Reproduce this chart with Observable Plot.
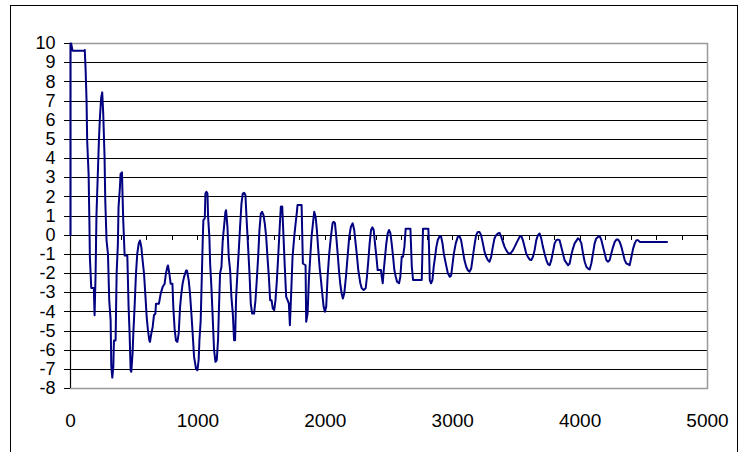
<!DOCTYPE html>
<html>
<head>
<meta charset="utf-8">
<script src="https://cdn.jsdelivr.net/npm/d3@7"></script>
<script src="https://cdn.jsdelivr.net/npm/@observablehq/plot@0.6"></script>
<style>
  html, body { margin: 0; padding: 0; background: #fff; overflow: hidden; }
  #wrap { position: relative; width: 739px; height: 452px; }
  #box { position: absolute; left: 10px; top: 5px; width: 728px; height: 460px; border: 1px solid #000; box-sizing: border-box; pointer-events: none; }
  #chart { position: absolute; left: 0; top: 0; }
</style>
</head>
<body>
<div id="wrap"><div id="chart"></div><div id="box"></div></div>
<script>
// Tick values
const xTickLabels = [0, 1000, 2000, 3000, 4000, 5000];
const xMinorTicks = d3.range(0, 5001, 200);
const yTickValues = [-8, -7, -6, -5, -4, -3, -2, -1, 0, 1, 2, 3, 4, 5, 6, 7, 8, 9, 10];

// Series (x, y)
const xs = [
  0, 0, 5, 16, 110, 112, 118, 126, 131, 142, 149, 152, 163, 183, 189, 197, 204, 223, 231, 241,
  249, 257, 267, 273, 283, 294, 304, 315, 320, 328, 336, 341, 354, 362, 372, 377, 388, 393, 404, 409,
  414, 425, 446, 456, 464, 472, 477, 487, 493, 503, 514, 524, 535, 545, 556, 566, 577, 587, 598, 608,
  619, 624, 634, 645, 655, 666, 671, 694, 708, 723, 739, 749, 760, 765, 776, 786, 800, 807, 818, 828,
  839, 849, 860, 870, 880, 891, 907, 914, 928, 938, 949, 959, 970, 985, 996,
  1006, 1012, 1022, 1030, 1038, 1043, 1054, 1059, 1067, 1075, 1080, 1090, 1096, 1106, 1116, 1127, 1138, 1148, 1158, 1164,
  1174, 1185, 1195, 1205, 1216, 1221, 1232, 1242, 1253, 1263, 1274, 1284, 1292, 1300, 1310, 1321, 1331, 1342, 1352, 1363,
  1373, 1384, 1394, 1405, 1415, 1426, 1441, 1452, 1462, 1473, 1483, 1494, 1504, 1515, 1525, 1536, 1546, 1557, 1567, 1578,
  1588, 1599, 1609, 1620, 1630, 1641, 1651, 1662, 1672, 1682, 1693, 1704, 1714, 1722, 1730, 1743, 1756, 1767, 1777, 1782,
  1814, 1824, 1845, 1850, 1861, 1871, 1882, 1892, 1903, 1913, 1924, 1934, 1945, 1955, 1966, 1976, 1987, 1997, 2007,
  2018, 2031, 2044, 2057, 2065, 2076, 2086, 2097, 2107, 2117, 2128, 2138, 2149, 2162, 2175, 2188, 2201, 2215, 2227, 2238,
  2249, 2259, 2275, 2286, 2301, 2317, 2327, 2338, 2348, 2359, 2369, 2380, 2390, 2401, 2411, 2437, 2443, 2451, 2459, 2469,
  2479, 2490, 2500, 2511, 2521, 2532, 2542, 2553, 2563, 2579, 2589, 2600, 2610, 2621, 2631, 2668, 2679, 2689, 2757, 2762,
  2767, 2809, 2814, 2820, 2830, 2841, 2851, 2862, 2872, 2883, 2899, 2909, 2920, 2930, 2940, 2951, 2962, 2977, 2988, 3009,
  3024, 3040, 3053, 3066, 3079, 3092, 3106, 3119, 3132, 3145, 3158, 3171, 3184, 3197, 3210, 3223, 3237, 3250, 3263, 3276,
  3289, 3302, 3315, 3328, 3341, 3355, 3368, 3381, 3394, 3407, 3420, 3433, 3446, 3459, 3473, 3486, 3499, 3512, 3525, 3538,
  3551, 3564, 3577, 3590, 3604, 3617, 3630, 3643, 3656, 3669, 3682, 3695, 3708, 3721, 3735, 3748, 3761, 3774, 3787, 3800,
  3813, 3826, 3839, 3852, 3865, 3878, 3905, 3918, 3931, 3944, 3957, 3983, 3996, 4010, 4023, 4036, 4049, 4062, 4075, 4088,
  4101, 4114, 4127, 4141, 4154, 4167, 4180, 4193, 4206, 4219, 4232, 4245, 4259, 4272, 4285, 4298, 4311, 4324, 4337, 4350,
  4363, 4376, 4389, 4403, 4416, 4429, 4442, 4455, 4468, 4682
];
const ys = [
  0, 10, 10, 9.62, 9.62, 9.66, 8.75, 7.02, 4.93, 3.2, 0.42, -1.14, -2.75, -2.75, -4.18, -2.0, 1.11, 4.93, 6.15, 7.19,
  7.45, 6.32, 4.15, 1.8, -0.28, -0.97, -3.4, -4.44, -6.79, -7.43, -6.87, -5.5, -5.5, -2.0, -0.45, 1.46, 2.5, 3.2, 3.28, 1.98,
  0.77, -1.06, -1.06, -3.75, -5.14, -7.05, -7.13, -6.18, -5.14, -3.75, -2.0, -0.97, -0.45, -0.28, -0.62, -1.32, -2.0, -3.05, -4.27, -4.96,
  -5.5, -5.57, -5.14, -4.79, -4.18, -4.1, -3.58, -3.58, -3.05, -2.71, -2.53, -2.0, -1.67, -1.58, -2.0, -2.53, -2.53, -3.75, -4.96, -5.5,
  -5.57, -5.14, -3.75, -3.05, -2.53, -2.19, -1.84, -1.84, -2.36, -3.05, -4.1, -5.14, -6.35, -6.96, -7.05,
  -6.5, -5.48, -4.43, -2.35, -0.26, 0.78, 0.87, 2.17, 2.26, 2.17, 0.96, -0.09, -1.48, -2.7, -4.26, -6.0, -6.61, -6.52, -5.48, -4.09,
  -2.0, -1.65, -0.26, 0.43, 1.22, 1.3, 0.43, -1.13, -1.83, -3.22, -4.09, -5.48, -5.48, -3.22, -2.0, -0.78, 0.43, 1.65, 2.17, 2.21,
  2.09, 0.61, -0.61, -2.0, -3.57, -4.09, -4.09, -3.39, -2.35, -1.13, 0.26, 1.13, 1.22, 1.04, 0.61, -0.09, -1.13, -2.17, -3.39, -3.39,
  -3.83, -3.91, -3.39, -2.35, -1.13, 0.26, 1.48, 1.5, -0.09, -1.65, -3.22, -3.39, -3.57, -4.7, -3.39, -1.13, -0.09, 0.61, 1.22, 1.57,
  1.57, -1.48, -1.57, -4.52, -4.09, -2.35, -1.13, -0.09, 0.61, 1.22, 0.96, 0.26, -0.78, -1.65, -2.35, -3.04, -3.74, -4.0, -3.74,
  -2.17, -0.95, -0.08, 0.62, 0.7, 0.62, -0.08, -0.95, -1.82, -2.51, -3.03, -3.3, -3.03, -2.17, -1.12, -0.08, 0.44, 0.62, 0.27, -0.43,
  -1.12, -1.82, -2.51, -2.77, -2.86, -2.77, -2.17, -1.3, -0.43, 0.27, 0.41, 0.27, -0.43, -1.12, -1.82, -1.82, -2.17, -2.51, -1.82, -1.12,
  -0.43, 0.1, 0.27, 0.1, -0.43, -1.12, -1.82, -2.17, -2.43, -2.51, -2.17, -1.12, -1.12, -0.6, 0.34, 0.34, -1.64, -2.34, -2.34, -0.95,
  0.34, 0.34, -0.6, -2.34, -2.51, -2.34, -1.64, -1.12, -0.6, -0.25, -0.04, -0.08, -0.43, -0.95, -1.3, -1.64, -1.99, -2.17, -2.1, -0.96,
  -0.43, -0.09, -0.05, -0.26, -0.78, -1.3, -1.65, -1.83, -1.91, -1.74, -1.13, -0.52, 0, 0.17, 0.17, 0, -0.43, -0.87, -1.13, -1.3,
  -1.39, -1.13, -0.61, -0.17, 0, 0.09, 0.12, -0.09, -0.35, -0.61, -0.78, -0.92, -0.96, -0.92, -0.78, -0.61, -0.43, -0.26, -0.09, -0.05,
  -0.26, -0.61, -0.96, -1.13, -1.27, -1.3, -1.13, -0.78, -0.26, 0, 0.09, -0.17, -0.61, -0.96, -1.3, -1.51, -1.57, -1.3, -0.87, -0.43,
  -0.26, -0.23, -0.26, -0.61, -0.96, -1.3, -1.57, -1.48, -1.04, -0.7, -0.43, -0.17, -0.23, -0.43, -0.96, -1.39, -1.65, -1.74, -1.79, -1.48,
  -0.96, -0.43, -0.17, -0.09, -0.05, -0.26, -0.61, -0.96, -1.3, -1.39, -1.3, -0.96, -0.61, -0.35, -0.23, -0.23, -0.35, -0.61, -0.96, -1.3,
  -1.48, -1.51, -1.57, -1.13, -0.7, -0.43, -0.26, -0.26, -0.35, -0.35
];

const data = xs.map((x, i) => ({x, y: ys[i]}));

const chart = Plot.plot({
  width: 739,
  height: 452,
  marginLeft: 70,
  marginRight: 32,
  marginTop: 43,
  marginBottom: 64,
  x: {domain: [0, 5000]},
  y: {domain: [-8, 10]},
  style: {background: "transparent", fontFamily: "'Liberation Sans', Arial, sans-serif", color: "#000", overflow: "visible"},
  marks: [
    Plot.ruleY(yTickValues, {stroke: "#000", strokeWidth: 1, shapeRendering: "crispEdges"}),
    Plot.frame({stroke: "#999", strokeWidth: 1.5}),
    Plot.ruleX([0], {stroke: "#000", strokeWidth: 1, shapeRendering: "crispEdges"}),
    Plot.ruleY([0], {stroke: "#000", strokeWidth: 1, shapeRendering: "crispEdges"}),
    Plot.ruleX(xMinorTicks, {x: d => d, y1: 0, y2: 0, insetBottom: -5, stroke: "#000", strokeWidth: 1, shapeRendering: "crispEdges"}),
    Plot.axisY({ticks: yTickValues, tickSize: 6, tickPadding: 9, fontSize: 18, tickFormat: d => String(d), label: null, stroke: "#000", strokeOpacity: 1, shapeRendering: "crispEdges"}),
    Plot.axisX({ticks: xTickLabels, tickSize: 0, tickPadding: 25, fontSize: 19, tickFormat: d => String(d), label: null}),
    Plot.line(data, {x: "x", y: "y", stroke: "#000080", strokeWidth: 2, strokeLinejoin: "round"})
  ]
});
document.getElementById("chart").appendChild(chart);
</script>
</body>
</html>
